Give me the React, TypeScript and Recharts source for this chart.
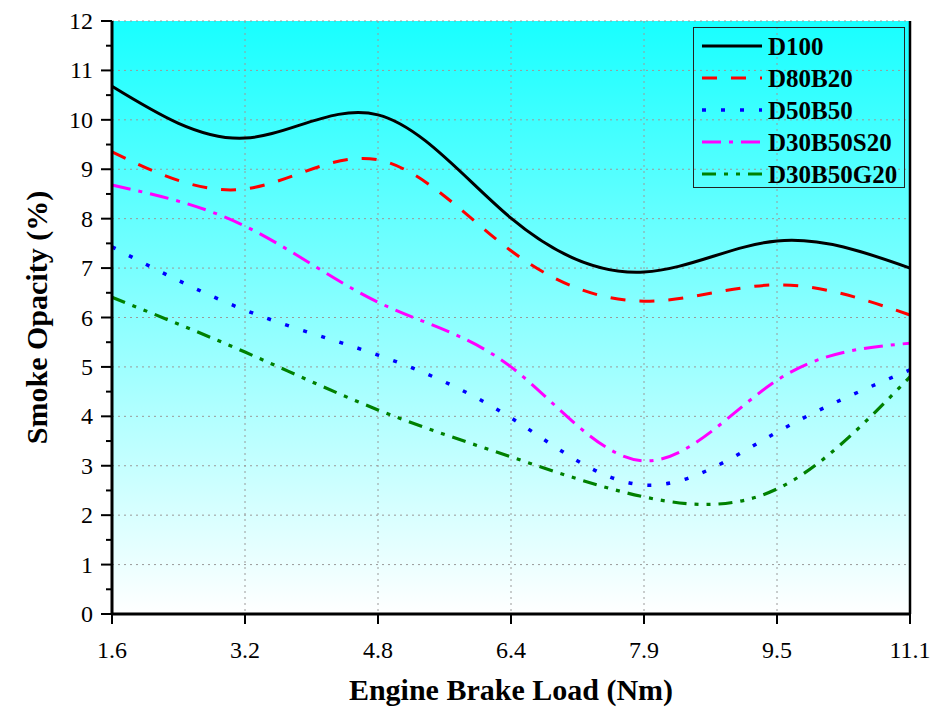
import React from "react";
import { LineChart, Line, XAxis, YAxis, CartesianGrid } from "recharts";

const loads = ["1.6", "3.2", "4.8", "6.4", "7.9", "9.5", "11.1"];
const d100 = [10.68, 9.63, 10.1, 8.01, 6.92, 7.55, 7.0];
const d80b20 = [9.35, 8.6, 9.19, 7.35, 6.33, 6.66, 6.05];
const d50b50 = [7.43, 6.15, 5.24, 3.97, 2.61, 3.68, 4.94];
const d30b50s20 = [8.68, 7.85, 6.31, 5.0, 3.1, 4.73, 5.48];
const d30b50g20 = [6.41, 5.3, 4.13, 3.18, 2.37, 2.53, 4.8];

const yTicks = [0, 1, 2, 3, 4, 5, 6, 7, 8, 9, 10, 11, 12];
const yTicksMinor = [
  0, 0.5, 1, 1.5, 2, 2.5, 3, 3.5, 4, 4.5, 5, 5.5, 6, 6.5, 7, 7.5, 8, 8.5, 9,
  9.5, 10, 10.5, 11, 11.5, 12,
];
const rightTicks = [0, 1, 2, 3, 4, 5, 6, 7, 8, 9, 10];

const series = [
  { key: "D100", values: d100, color: "#000000", dash: undefined, width: 3 },
  { key: "D80B20", values: d80b20, color: "#ff0000", dash: "15 14", width: 3 },
  { key: "D50B50", values: d50b50, color: "#0000ff", dash: "4 15", width: 3.5 },
  { key: "D30B50S20", values: d30b50s20, color: "#ff00ff", dash: "19 8 4 8", width: 3 },
  { key: "D30B50G20", values: d30b50g20, color: "#008000", dash: "14 8 4 8 4 8", width: 3.2 },
];

const data = loads.map((load, i) => {
  const row: Record<string, string | number> = { load };
  series.forEach((s) => (row[s.key] = s.values[i]));
  return row;
});

const FONT = '"Liberation Serif", "Times New Roman", serif';

function YTick(props: any) {
  const { x, y, payload } = props;
  const major = Number.isInteger(payload.value);
  return (
    <g>
      <line x1={x - (major ? 11 : 6)} x2={x} y1={y} y2={y} stroke="#000" strokeWidth={2} />
      {major && (
        <text
          x={x - 19}
          y={y}
          dy={8}
          textAnchor="end"
          fontSize={24}
          fontFamily={FONT}
          fill="#000"
        >
          {payload.value}
        </text>
      )}
    </g>
  );
}

function XTick(props: any) {
  const { x, y, payload } = props;
  return (
    <g>
      <line x1={x} x2={x} y1={y} y2={y + 10} stroke="#000" strokeWidth={2} />
      <text
        x={x}
        y={y + 44}
        textAnchor="middle"
        fontSize={24}
        fontFamily={FONT}
        fill="#000"
      >
        {payload.value}
      </text>
    </g>
  );
}

function LegendBox() {
  return (
    <div
      style={{
        position: "absolute",
        left: 693,
        top: 27,
        border: "1.5px solid #222",
        width: 212,
        height: 161,
        boxSizing: "border-box",
        paddingTop: 2,
      }}
    >
      {series.map((s) => (
        <div key={s.key} style={{ display: "flex", alignItems: "center", height: 32 }}>
          <svg width={74} height={20} style={{ flex: "none" }}>
            <line
              x1={8}
              x2={68}
              y1={10}
              y2={10}
              stroke={s.color}
              strokeWidth={s.width}
              strokeDasharray={s.dash}
            />
          </svg>
          <span
            style={{
              fontFamily: FONT,
              fontWeight: "bold",
              fontSize: 25,
              color: "#000",
              lineHeight: 1,
            }}
          >
            {s.key}
          </span>
        </div>
      ))}
    </div>
  );
}

export default function App() {
  return (
    <div style={{ position: "absolute", left: 0, top: 0, width: 938, height: 713, background: "#fff" }}>
      <LineChart
        width={938}
        height={713}
        data={data}
        margin={{ top: 21, right: 0, bottom: 59, left: 52 }}
      >
        <defs>
          <linearGradient id="plotBg" x1="0" y1="0" x2="0" y2="1">
            <stop offset="0%" stopColor="#18ffff" />
            <stop offset="100%" stopColor="#ffffff" />
          </linearGradient>
        </defs>
        <CartesianGrid
          fill="url(#plotBg)"
          fillOpacity={1}
          stroke="#9a9a9a"
          strokeDasharray="2 4"
          horizontalValues={yTicks}
        />
        <XAxis
          dataKey="load"
          type="category"
          height={40}
          padding={{ left: 0, right: 0 }}
          axisLine={{ stroke: "#000", strokeWidth: 3 }}
          tickLine={false}
          tickSize={0}
          tickMargin={0}
          tick={<XTick />}
          interval={0}
          label={{
            value: "Engine Brake Load (Nm)",
            position: "insideBottom",
            offset: -46,
            style: {
              fontFamily: FONT,
              fontWeight: "bold",
              fontSize: 30,
              fill: "#000",
              textAnchor: "middle",
            },
          }}
        />
        <XAxis
          xAxisId="top"
          dataKey="load"
          orientation="top"
          height={0}
          axisLine={{ stroke: "#000", strokeWidth: 2 }}
          tickLine={{ stroke: "#888", strokeWidth: 1 }}
          tickSize={3}
          tick={false}
        />
        <YAxis
          domain={[0, 12]}
          ticks={yTicksMinor}
          interval={0}
          width={60}
          axisLine={{ stroke: "#000", strokeWidth: 3 }}
          tickLine={false}
          tickSize={0}
          tickMargin={0}
          tick={<YTick />}
          label={{
            value: "Smoke Opacity (%)",
            angle: -90,
            position: "center",
            dx: -46,
            style: {
              fontFamily: FONT,
              fontWeight: "bold",
              fontSize: 30,
              fill: "#000",
              textAnchor: "middle",
            },
          }}
        />
        <YAxis
          yAxisId="right"
          orientation="right"
          domain={[0, 10]}
          ticks={rightTicks}
          interval={0}
          width={28}
          axisLine={{ stroke: "#000", strokeWidth: 2.5 }}
          tickLine={{ stroke: "#000", strokeWidth: 1.5 }}
          tickSize={4}
          tickFormatter={() => ""}
        />
        {series.map((s) => (
          <Line
            key={s.key}
            type="natural"
            dataKey={s.key}
            stroke={s.color}
            strokeWidth={s.width}
            strokeDasharray={s.dash}
            dot={false}
            activeDot={false}
            isAnimationActive={false}
          />
        ))}
      </LineChart>
      <LegendBox />
    </div>
  );
}
